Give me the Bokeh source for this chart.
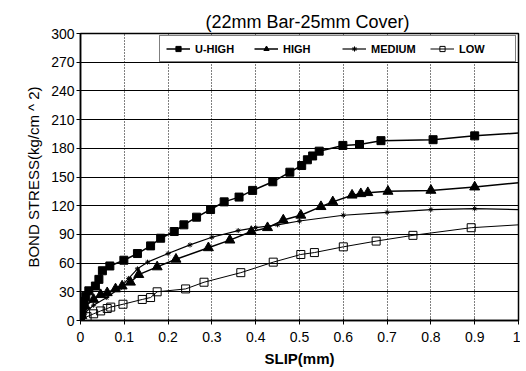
from bokeh.plotting import figure
from bokeh.models import FixedTicker, Legend, Title
from bokeh.embed import file_html
from bokeh.resources import INLINE

# ---- data ----
uhigh_x = [0, 0.003, 0.005, 0.008, 0.012, 0.019, 0.034, 0.042, 0.05, 0.067, 0.099, 0.13, 0.16, 0.183,
           0.214, 0.236, 0.265, 0.297, 0.328, 0.362, 0.393, 0.439, 0.478, 0.505, 0.518, 0.53, 0.545,
           0.599, 0.637, 0.686, 0.805, 0.9, 1.0]
uhigh_y = [0, 8, 15, 20, 25, 31, 36, 43, 52, 57, 63, 70, 78, 86,
           93, 100, 108, 116, 124, 129, 136, 145, 155, 162, 168, 172, 177,
           183, 184, 188, 189, 193, 196]

high_x = [0, 0.003, 0.011, 0.03, 0.046, 0.061, 0.08, 0.095, 0.114, 0.133, 0.175, 0.218, 0.292, 0.341,
          0.39, 0.427, 0.463, 0.503, 0.549, 0.576, 0.62, 0.64, 0.656, 0.702, 0.8, 0.9, 1.0]
high_y = [0, 5, 15, 22, 27, 29, 33, 36, 40, 48, 56, 64, 76, 84,
          93, 97, 105, 110, 119, 124, 131, 132.5, 133.6, 135, 136, 139.5, 144]

medium_x = [0, 0.01, 0.03, 0.06, 0.09, 0.11, 0.13, 0.153, 0.2, 0.25, 0.3, 0.36, 0.4, 0.45, 0.5,
            0.6, 0.7, 0.8, 0.9, 1.0]
medium_y = [0, 8, 16, 24, 34, 44, 54, 61, 70, 79, 87, 94, 97, 100, 104,
            110, 113, 116, 117, 116]

low_x = [0, 0.015, 0.03, 0.046, 0.061, 0.069, 0.097, 0.141, 0.16, 0.175, 0.24, 0.282, 0.366, 0.44,
         0.503, 0.534, 0.6, 0.675, 0.759, 0.892, 1.0]
low_y = [0, 4, 7, 10, 12.5, 14, 17, 22, 24, 30, 33, 40, 50, 61,
         69, 71, 77, 83, 89, 97, 100]

x_ticks = [0, 0.1, 0.2, 0.3, 0.4, 0.5, 0.6, 0.7, 0.8, 0.9, 1.0]
x_tick_labels = ["0", "0.1", "0.2", "0.3", "0.4", "0.5", "0.6", "0.7", "0.8", "0.9", "1"]
y_ticks = [0, 30, 60, 90, 120, 150, 180, 210, 240, 270, 300]

title_text = "(22mm Bar-25mm Cover)"
x_label = "SLIP(mm)"
y_label = "BOND STRESS(kg/cm ^ 2)"

FONT = "Liberation Sans"

p = figure(width=520, height=369, x_range=(0, 1), y_range=(0, 300),
           output_backend="svg", toolbar_location=None,
           min_border_left=80, min_border_right=2, min_border_top=33, min_border_bottom=10)
p.background_fill_color = "white"
p.border_fill_color = "white"
p.outline_line_color = "black"
p.outline_line_width = 1.5

t = Title(text=title_text, align="left", offset=125, text_font=FONT,
          text_font_size="18px", text_font_style="normal", text_color="black", standoff=4)
p.add_layout(t, "above")

p.xaxis.ticker = FixedTicker(ticks=x_ticks)
p.xaxis.major_label_overrides = {v: l for v, l in zip(x_ticks, x_tick_labels)}
p.yaxis.ticker = FixedTicker(ticks=y_ticks)
for ax in (p.xaxis[0], p.yaxis[0]):
    ax.major_label_text_font = FONT
    ax.major_label_text_font_size = "14px"
    ax.major_label_text_color = "black"
    ax.axis_line_color = "black"
    ax.axis_line_width = 1.5
    ax.major_tick_line_color = "black"
    ax.major_tick_out = 4
    ax.major_tick_in = 2
    ax.minor_tick_line_color = None
    ax.axis_label_text_font = FONT
    ax.axis_label_text_color = "black"

p.xaxis.axis_label = x_label
p.xaxis.axis_label_text_font_size = "15px"
p.xaxis.axis_label_text_font_style = "bold"
p.xaxis.axis_label_standoff = 5
p.xaxis.major_label_standoff = 7

p.yaxis.axis_label = y_label
p.yaxis.axis_label_text_font_size = "15px"
p.yaxis.axis_label_text_font_style = "normal"
p.yaxis.axis_label_standoff = 6
p.yaxis.major_label_standoff = 2

p.xgrid.grid_line_color = "black"
p.xgrid.grid_line_dash = "1 2"
p.xgrid.grid_line_width = 1
p.ygrid.grid_line_color = "black"
p.ygrid.grid_line_width = 1

l1 = p.line(uhigh_x, uhigh_y, line_color="black", line_width=1.5)
m1 = p.scatter(uhigh_x[:-1], uhigh_y[:-1], marker="square", size=8, fill_color="black", line_color="black")
l2 = p.line(high_x, high_y, line_color="black", line_width=1.5)
m2 = p.scatter(high_x[:-1], high_y[:-1], marker="triangle", size=10, fill_color="black", line_color="black")
l3 = p.line(medium_x, medium_y, line_color="black", line_width=1.2)
m3 = p.scatter(medium_x[:-1], medium_y[:-1], marker="asterisk", size=5, line_color="black", line_width=1)
l4 = p.line(low_x, low_y, line_color="black", line_width=1)
m4 = p.scatter(low_x[:-1], low_y[:-1], marker="square", size=8, fill_color=None, line_color="black", line_width=1)

legend = Legend(items=[("U-HIGH", [l1, m1]), ("HIGH", [l2, m2]), ("MEDIUM", [l3, m3]), ("LOW", [l4, m4])],
                orientation="horizontal", location="top_right")
legend.label_text_font = FONT
legend.label_text_font_size = "11px"
legend.label_text_font_style = "bold"
legend.label_text_color = "black"
legend.border_line_color = "black"
legend.border_line_width = 1.5
legend.background_fill_color = "white"
legend.background_fill_alpha = 1
legend.glyph_width = 24
legend.glyph_height = 13
legend.label_width = 50
legend.label_height = 13
legend.spacing = 9
legend.padding = 6
legend.margin = 2
legend.label_standoff = 5
p.add_layout(legend)

open("out.html", "w").write(file_html(p, INLINE))
